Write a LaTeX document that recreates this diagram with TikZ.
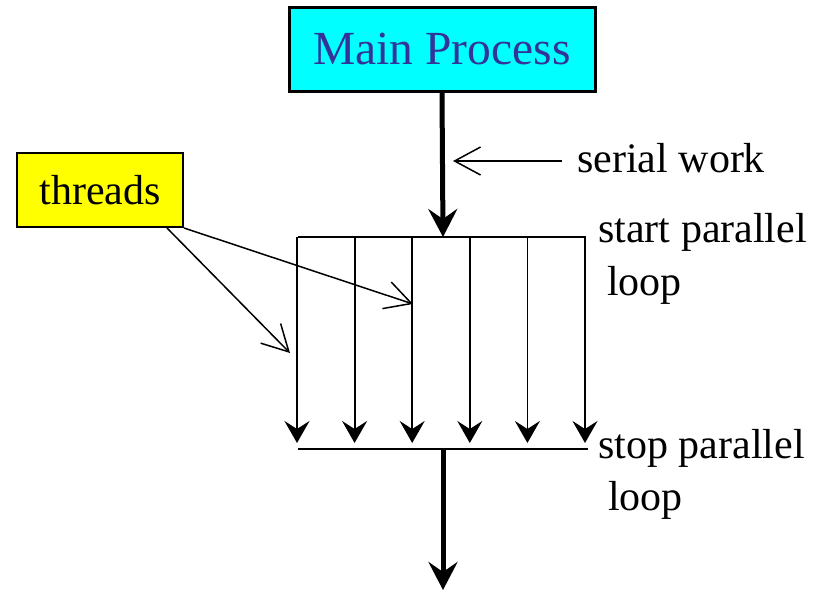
\documentclass[tikz,border=0pt]{standalone}
\usepackage{fontspec}
\setmainfont{Liberation Serif}
\usetikzlibrary{arrows.meta}
\definecolor{titleblue}{RGB}{51,51,153}
\definecolor{boxcyan}{RGB}{0,255,255}
\definecolor{boxyellow}{RGB}{255,255,0}
\tikzset{
  procbox/.style={draw=black, line width=3pt, fill=boxcyan, text=titleblue, minimum width=306pt, minimum height=84pt, inner sep=0pt, font=\fontsize{47.5}{56}\selectfont},
  threadbox/.style={draw=black, line width=2pt, fill=boxyellow, minimum width=166pt, minimum height=74pt, inner sep=0pt, font=\fontsize{42}{50}\selectfont},
  lbl/.style={anchor=base west, inner sep=0pt, font=\fontsize{42}{50}\selectfont},
  bigarrow/.style={line width=5pt, -{Stealth[length=28pt, width=29pt, inset=10pt]}},
  thread/.style={line width=1.8pt, -{Stealth[length=22pt, width=25pt, inset=8pt]}},
  bar/.style={line width=2pt},
  callout/.style={line width=1.5pt, -{Straight Barb[length=26pt, width=28pt]}}
}

\begin{document}
\begin{tikzpicture}[x=1pt, y=-1pt]
		%%%%% START %%%%%
		\useasboundingbox (0, 0) rectangle (825, 592);
		
		\node[procbox] (main) at (442, 49) {Main Process};
		\node[threadbox] (threads) at (100, 190) {threads};
		
		\coordinate (fork) at (443, 237);
		\coordinate (join) at (443, 449);
		\coordinate (out) at (443, 590);
		
		% serial part
		\draw[bigarrow] (main.south) -- (fork);
		\node[lbl] (serial) at (577, 172) {serial work};
		\coordinate (swtail) at (562, 161);
		\coordinate (swtip) at (453, 161);
		\draw[callout] (swtail) -- (swtip);
		
		% parallel loop
		\coordinate (forkL) at (298, 237);
		\coordinate (forkR) at (586, 237);
		\coordinate (joinL) at (298, 449);
		\coordinate (joinR) at (588, 449);
		\draw[bar] (forkL) -- (forkR);
		\draw[bar] (joinL) -- (joinR);
		\foreach \i in {0,...,5}
		{
			\coordinate (top\i) at (297+57.6*\i, 237);
			\coordinate (bot\i) at (297+57.6*\i, 443);
			\draw[thread] (top\i) -- (bot\i);
		}
		
		\node[lbl] (start) at (598, 242) {start parallel};
		\node[lbl] (startloop) at (607, 295) {loop};
		\node[lbl] (stop) at (598, 458) {stop parallel};
		\node[lbl] (stoploop) at (608, 510) {loop};
		
		\draw[bigarrow] (join) -- (out);
		
		% threads callouts
		\coordinate (t1) at (290, 353);
		\coordinate (t2) at (413, 304);
		\draw[callout] ([xshift=-17pt]threads.south east) -- (t1);
		\draw[callout] (threads.south east) -- (t2);
		
		%%%%% END %%%%%
\end{tikzpicture}
\end{document}
